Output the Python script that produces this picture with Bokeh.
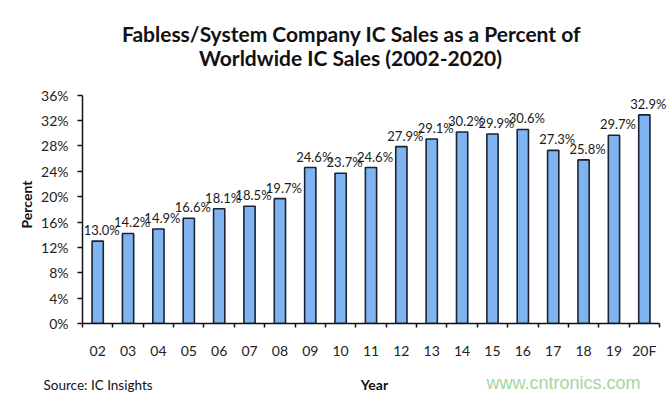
import math
from bokeh.plotting import figure
from bokeh.layouts import column
from bokeh.models import Range1d, FixedTicker, ColumnDataSource, LabelSet, Label
from bokeh.core.properties import value
from bokeh.embed import file_html
from bokeh.resources import INLINE

years = ["02", "03", "04", "05", "06", "07", "08", "09", "10", "11",
         "12", "13", "14", "15", "16", "17", "18", "19", "20F"]
shares = [13.0, 14.2, 14.9, 16.6, 18.1, 18.5, 19.7, 24.6, 23.7, 24.6,
          27.9, 29.1, 30.2, 29.9, 30.6, 27.3, 25.8, 29.7, 32.9]
y_ticks = [0, 4, 8, 12, 16, 20, 24, 28, 32, 36]
y_tick_labels = ["0%", "4%", "8%", "12%", "16%", "20%", "24%", "28%", "32%", "36%"]

title_line1 = "Fabless/System Company IC Sales as a Percent of"
title_line2 = "Worldwide IC Sales (2002-2020)"
x_title = "Year"
y_title = "Percent"
source_text = "Source: IC Insights"
watermark = "www.cntronics.com"

FONT = "Lato"
W = 669
TOTAL_H = 393

# ---------- geometry (pixels) ----------
TOP_H = 85                 # title strip
F_LEFT = 82                # frame left inside main figure
AXIS_W = 577               # width of the category axis
CAT_PX = AXIS_W / len(years)
EXTRA_R = W - F_LEFT - AXIS_W   # room right of last category for its label
PX_PER_PCT = 6.5
EXTRA_T = 10               # room above 36% for labels
B_BOTTOM = 32
MAIN_H = EXTRA_T + int(36 * PX_PER_PCT) + B_BOTTOM
BOT_H = TOTAL_H - TOP_H - MAIN_H

X0 = -0.5
X1 = len(years) - 0.5 + EXTRA_R / CAT_PX
Y1 = 36 + EXTRA_T / PX_PER_PCT


def text_strip(height):
    f = figure(width=W, height=height, x_range=Range1d(0, W),
               y_range=Range1d(height, 0), output_backend="svg",
               toolbar_location=None, x_axis_location=None,
               y_axis_location=None, min_border=0, frame_align=False)
    f.outline_line_color = None
    f.xgrid.visible = False
    f.ygrid.visible = False
    return f


def put(fig, text, x, y, size, bold=False, align="left", color="#111111",
        font=FONT, baseline="alphabetic"):
    fig.add_layout(Label(x=x, y=y, text=text, text_font=font,
                         text_font_size=size,
                         text_font_style="bold" if bold else "normal",
                         text_align=align, text_baseline=baseline,
                         text_color=color))


# ---------- title strip ----------
top = text_strip(TOP_H)
put(top, title_line1, 351, 33, "21px", bold=True, align="center")
put(top, title_line2, 350, 57, "21px", bold=True, align="center")

# ---------- main chart ----------
positions = list(range(len(years)))
src = ColumnDataSource(dict(x=positions, share=shares,
                            label=[f"{v:.1f}%" for v in shares]))

p = figure(width=W, height=MAIN_H,
           x_range=Range1d(X0, X1), y_range=Range1d(0, Y1),
           output_backend="svg", toolbar_location=None,
           min_border_left=F_LEFT, min_border_right=0,
           min_border_top=0, min_border_bottom=B_BOTTOM, frame_align=False)
p.outline_line_color = None
p.xgrid.visible = False
p.ygrid.visible = False

p.vbar(x="x", top="share", width=0.37, source=src,
       fill_color="#80b4f0", line_color="#1b2233", line_width=1.6)

p.add_layout(LabelSet(x="x", y="share", text="label", source=src,
                      x_offset=4, y_offset=6, text_align="center",
                      text_baseline="alphabetic", text_font=value(FONT),
                      text_font_size="13px", text_color="#1a1a1a"))

xa = p.xaxis[0]
xa.bounds = (X0, len(years) - 0.5)
xa.ticker = FixedTicker(ticks=positions,
                        minor_ticks=[i - 0.5 for i in range(len(years) + 1)])
xa.major_label_overrides = {i: y for i, y in enumerate(years)}
xa.major_tick_out = 0
xa.major_tick_in = 0
xa.minor_tick_out = 4
xa.minor_tick_in = 0
xa.minor_tick_line_color = "#111111"
xa.minor_tick_line_width = 1.5
xa.axis_line_color = "#111111"
xa.axis_line_width = 1.5
xa.major_label_standoff = 14
xa.major_label_text_font = FONT
xa.major_label_text_font_size = "14px"
xa.major_label_text_color = "#222222"

ya = p.yaxis[0]
ya.bounds = (0, 36)
ya.ticker = FixedTicker(ticks=y_ticks)
ya.major_label_overrides = {v: t for v, t in zip(y_ticks, y_tick_labels)}
ya.major_tick_out = 5
ya.major_tick_in = 0
ya.minor_tick_out = 0
ya.minor_tick_in = 0
ya.major_tick_line_color = "#111111"
ya.major_tick_line_width = 1.5
ya.axis_line_color = "#111111"
ya.axis_line_width = 1.5
ya.major_label_standoff = 9
ya.major_label_text_font = FONT
ya.major_label_text_font_size = "14px"
ya.major_label_text_color = "#222222"
ya.axis_label = y_title
ya.axis_label_text_font = FONT
ya.axis_label_text_font_size = "14px"
ya.axis_label_text_font_style = "bold"
ya.axis_label_text_color = "#111111"
ya.axis_label_standoff = 3

# ---------- bottom strip ----------
bot = text_strip(BOT_H)
put(bot, x_title, 374, 23, "14px", bold=True, align="center")
put(bot, source_text, 43, 23, "13.5px")
put(bot, watermark, 486, 21, "18px", color="#a6d59e",
    font="Liberation Sans")

layout = column(top, p, bot, spacing=0)
open("out.html", "w").write(file_html(layout, INLINE))
